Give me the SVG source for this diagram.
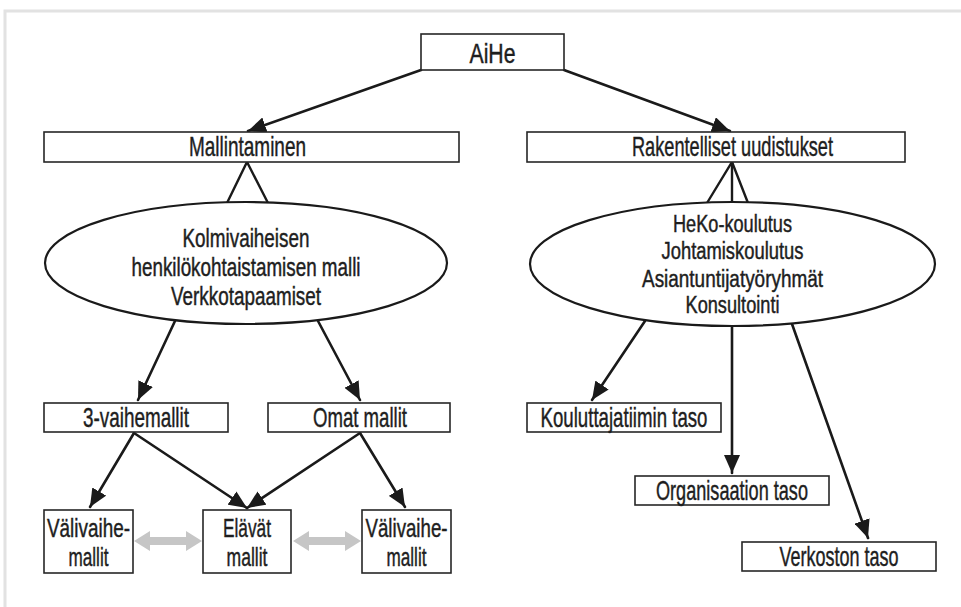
<svg xmlns="http://www.w3.org/2000/svg" width="961" height="607" viewBox="0 0 961 607">
  <style>
    .frame { stroke: #e2e2e2; stroke-width: 3; fill: none; }
    .box { fill: #ffffff; stroke: #262626; stroke-width: 1.6; }
    .oval { fill: #ffffff; stroke: #1a1a1a; stroke-width: 2.2; }
    .link { stroke: #1a1a1a; stroke-width: 2.6; fill: none; stroke-linecap: round; }
    .agg { stroke: #1a1a1a; stroke-width: 2.4; fill: none; stroke-linejoin: miter; }
    .swap { fill: #c6c6c6; stroke: none; }
    text { font-family: "Liberation Sans", Arial, sans-serif; fill: #1e1e1e; stroke: #1e1e1e; stroke-width: 0.45; text-anchor: middle; }
    .lbl { font-size: 28px; }
    .two { font-size: 26px; }
    .in-l { font-size: 25px; }
    .in-r { font-size: 23px; }
  </style>
  <defs>
    <marker id="head" markerUnits="userSpaceOnUse" markerWidth="19" markerHeight="16" viewBox="0 0 19 16" refX="18" refY="8" orient="auto">
      <path d="M0,0 L18,8 L0,16 Z" fill="#1a1a1a"/>
    </marker>
  </defs>

  <!-- page frame -->
  <path class="frame" d="M5,607 L5,11 L961,11"/>

  <!-- connectors -->
  <g id="connectors">
    <line class="link" x1="421" y1="70" x2="248" y2="131" marker-end="url(#head)"/>
    <line class="link" x1="564" y1="70" x2="730" y2="131" marker-end="url(#head)"/>

    <polyline class="agg" points="227,203 247,162 268,203"/>
    <polyline class="agg" points="707,203 732,162 748,203"/>
    <line class="agg" x1="732" y1="162" x2="732" y2="203"/>

    <line class="link" x1="175" y1="321" x2="138" y2="400" marker-end="url(#head)"/>
    <line class="link" x1="318" y1="321" x2="360" y2="400" marker-end="url(#head)"/>

    <line class="link" x1="134" y1="433" x2="90" y2="507" marker-end="url(#head)"/>
    <line class="link" x1="134" y1="433" x2="247" y2="508" marker-end="url(#head)"/>
    <line class="link" x1="360" y1="433" x2="247" y2="508" marker-end="url(#head)"/>
    <line class="link" x1="360" y1="433" x2="405" y2="507" marker-end="url(#head)"/>

    <line class="link" x1="645" y1="321" x2="592" y2="400" marker-end="url(#head)"/>
    <line class="link" x1="732" y1="326" x2="732" y2="473" marker-end="url(#head)"/>
    <line class="link" x1="792" y1="324" x2="868" y2="538" marker-end="url(#head)"/>

    <!-- two-way exchange arrows -->
    <polygon class="swap" points="134,541 150,531 150,537 186,537 186,531 202,541 186,551 186,545 150,545 150,551"/>
    <polygon class="swap" points="293,541 309,531 309,537 345,537 345,531 361,541 345,551 345,545 309,545 309,551"/>
  </g>

  <g id="aihe">
    <rect class="box" x="421" y="34" width="143" height="36"/>
    <text class="lbl" x="492.5" y="63" textLength="46" lengthAdjust="spacingAndGlyphs">AiHe</text>
  </g>

  <g id="mallintaminen">
    <rect class="box" x="44" y="132" width="415" height="30"/>
    <text class="lbl" x="247.5" y="156" textLength="117" lengthAdjust="spacingAndGlyphs">Mallintaminen</text>
  </g>

  <g id="rakentelliset">
    <rect class="box" x="527" y="132" width="378" height="30"/>
    <text class="lbl" x="732.5" y="156" textLength="201" lengthAdjust="spacingAndGlyphs">Rakentelliset uudistukset</text>
  </g>

  <g id="malli-oval">
    <ellipse class="oval" cx="246" cy="263" rx="201" ry="61"/>
    <text class="in-l" x="246" y="247" textLength="127" lengthAdjust="spacingAndGlyphs">Kolmivaiheisen</text>
    <text class="in-l" x="246" y="276" textLength="229" lengthAdjust="spacingAndGlyphs">henkilökohtaistamisen malli</text>
    <text class="in-l" x="246" y="305" textLength="150" lengthAdjust="spacingAndGlyphs">Verkkotapaamiset</text>
  </g>

  <g id="uudistus-oval">
    <ellipse class="oval" cx="732.5" cy="264" rx="202.5" ry="62"/>
    <text class="in-r" x="732.5" y="232" textLength="119" lengthAdjust="spacingAndGlyphs">HeKo-koulutus</text>
    <text class="in-r" x="732.5" y="259" textLength="142" lengthAdjust="spacingAndGlyphs">Johtamiskoulutus</text>
    <text class="in-r" x="732.5" y="287" textLength="181" lengthAdjust="spacingAndGlyphs">Asiantuntijatyöryhmät</text>
    <text class="in-r" x="732.5" y="313" textLength="94" lengthAdjust="spacingAndGlyphs">Konsultointi</text>
  </g>

  <g id="vaihemallit">
    <rect class="box" x="44" y="403" width="184" height="29"/>
    <text class="lbl" x="136" y="427" textLength="106" lengthAdjust="spacingAndGlyphs">3-vaihemallit</text>
  </g>

  <g id="omat-mallit">
    <rect class="box" x="268" y="403" width="182" height="29"/>
    <text class="lbl" x="360" y="427" textLength="94" lengthAdjust="spacingAndGlyphs">Omat mallit</text>
  </g>

  <g id="valivaihe-1">
    <rect class="box" x="44" y="510" width="89" height="63"/>
    <text class="two" x="88.5" y="537" textLength="83" lengthAdjust="spacingAndGlyphs">Välivaihe-</text>
    <text class="two" x="88.5" y="566" textLength="40" lengthAdjust="spacingAndGlyphs">mallit</text>
  </g>

  <g id="elavat">
    <rect class="box" x="203" y="510" width="88" height="63"/>
    <text class="two" x="247" y="537" textLength="48" lengthAdjust="spacingAndGlyphs">Elävät</text>
    <text class="two" x="247" y="566" textLength="41" lengthAdjust="spacingAndGlyphs">mallit</text>
  </g>

  <g id="valivaihe-2">
    <rect class="box" x="362" y="510" width="89" height="63"/>
    <text class="two" x="406.5" y="537" textLength="82" lengthAdjust="spacingAndGlyphs">Välivaihe-</text>
    <text class="two" x="406.5" y="566" textLength="40" lengthAdjust="spacingAndGlyphs">mallit</text>
  </g>

  <g id="kouluttajatiimi">
    <rect class="box" x="527" y="403" width="194" height="29"/>
    <text class="lbl" x="624" y="427" textLength="167" lengthAdjust="spacingAndGlyphs">Kouluttajatiimin taso</text>
  </g>

  <g id="organisaatio">
    <rect class="box" x="635" y="476" width="194" height="29"/>
    <text class="lbl" x="732" y="500" textLength="152" lengthAdjust="spacingAndGlyphs">Organisaation taso</text>
  </g>

  <g id="verkosto">
    <rect class="box" x="742" y="542" width="194" height="29"/>
    <text class="lbl" x="839" y="566" textLength="119" lengthAdjust="spacingAndGlyphs">Verkoston taso</text>
  </g>
</svg>
